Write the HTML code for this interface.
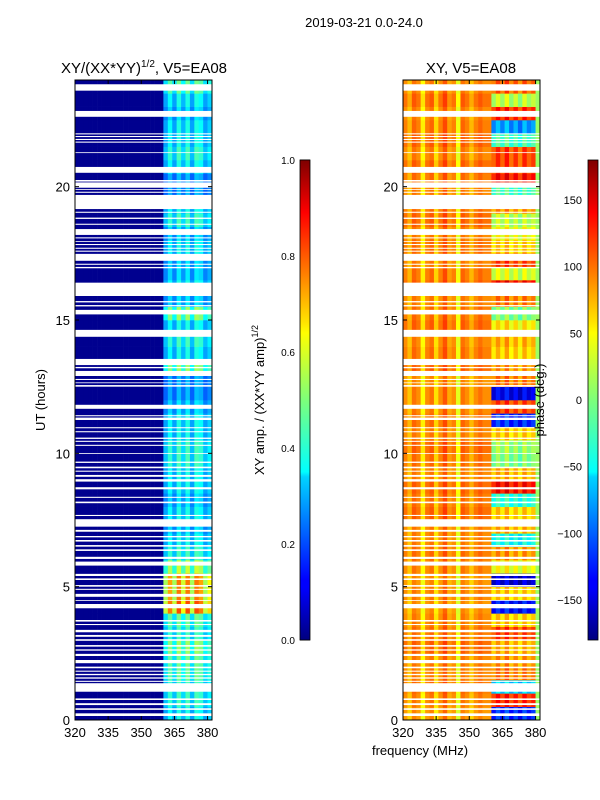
<!DOCTYPE html>
<html><head><meta charset="utf-8"><style>
body{margin:0;background:#fff;width:600px;height:800px;overflow:hidden}
svg{display:block}
text{font-family:"Liberation Sans","DejaVu Sans",sans-serif;fill:#000}
</style></head><body>
<svg id="fig" width="600" height="800" xmlns="http://www.w3.org/2000/svg">
<defs>
<linearGradient id="jet" x1="0" y1="1" x2="0" y2="0">
<stop offset="0" stop-color="#00007f"/><stop offset="0.11" stop-color="#0000ff"/><stop offset="0.125" stop-color="#0000ff"/><stop offset="0.34" stop-color="#00d4ff"/><stop offset="0.35" stop-color="#0ff"/><stop offset="0.5" stop-color="#7dff7a"/><stop offset="0.64" stop-color="#ff0"/><stop offset="0.66" stop-color="#ffe600"/><stop offset="0.89" stop-color="#ff0000"/><stop offset="1" stop-color="#7f0000"/>
</linearGradient>
</defs>
<text x="364" y="27" font-size="13" text-anchor="middle">2019-03-21 0.0-24.0</text>
<text x="144" y="73" font-size="15" text-anchor="middle">XY/(XX*YY)<tspan font-size="10" dy="-6">1/2</tspan><tspan dy="6">, V5=EA08</tspan></text>
<text x="471" y="73" font-size="15" text-anchor="middle">XY, V5=EA08</text>
<g id="left"></g>
<g id="right"></g>
<g id="axes"></g>
<text transform="translate(45,400) rotate(-90)" font-size="13" text-anchor="middle">UT (hours)</text>
<text x="420" y="755" font-size="13" text-anchor="middle">frequency (MHz)</text>
<rect x="300" y="160" width="10" height="480" fill="url(#jet)" stroke="#000" stroke-width="0.8"/>
<rect x="588" y="160" width="10" height="480" fill="url(#jet)" stroke="#000" stroke-width="0.8"/>
<text transform="translate(264,400) rotate(-90)" font-size="13" text-anchor="middle">XY amp. / (XX*YY amp)<tspan font-size="9" dy="-6">1/2</tspan></text>
<text transform="translate(544,400) rotate(-90)" font-size="13" text-anchor="middle">phase (deg.)</text>
</svg>
<script>
// ---- data ----
const freqBins = [320,322,324,326,328,330,332,334,336,338,340,342,344,346,348,350,352,354,356,358,360,362,364,366,368,370,372,374,376,378,380];
const ampByHalfHour = [0.45,0.5,0.5,0.55,0.55,0.6,0.5,0.55,0.9,0.85,0.85,0.65,0.5,0.45,0.4,0.45,0.4,0.45,0.45,0.5,0.5,0.45,0.45,0.4,0.35,0.35,0.6,0.45,0.5,0.45,0.6,0.4,0.45,0.4,0.4,0.45,0.4,0.5,0.45,0.35,0.35,0.45,0.5,0.45,0.45,0.4,0.45,0.55];
const ampColProfile = [0.05,0.05,0.05,0.05,0.05,0.05,0.05,0.05,0.05,0.05,0.05,0.05,0.05,0.05,0.05,0.05,0.05,0.05,0.05,0.05,0.6,0.8,0.6,0.85,0.65,0.85,0.6,0.85,0.8,0.6,0.7];
const phaseMainByHalfHour = [80,85,90,85,85,95,90,85,80,85,80,85,90,85,85,95,90,95,85,90,95,85,90,85,85,80,95,90,85,95,90,85,95,90,85,90,85,95,90,85,90,95,85,95,90,85,95,85];
const phaseHighByHalfHour = [-120,120,-60,90,80,70,110,60,-130,60,-150,40,80,-40,70,60,-30,130,70,0,10,60,-120,110,-140,90,80,60,70,50,0,90,130,30,110,60,40,20,80,-20,130,110,110,-20,-80,120,20,100];
const phaseColOffset = [0,-20,10,0,-40,0,10,-30,0,20,-10,0,-50,10,0,-20,0,10,0,0,-10,15,-10,20,-15,10,-20,15,-10,5,0];
const phaseColMode = ["m","m","m","m","m","m","m","m","m","m","m","m","m","m","m","m","m","m","m","m","h","h","h","h","h","h","h","h","h","h","g"];
const gapsHours = [[23.60,23.84],[22.62,22.84],[21.96,22.0],[21.86,21.9],[21.75,21.79],[21.65,21.69],[21.26,21.29],[20.52,20.74],[20.19,20.25],[19.96,20.16],[19.88,19.91],[19.77,19.81],[19.16,19.69],[19.02,19.06],[18.79,18.84],[18.57,18.61],[18.19,18.41],[18.06,18.10],[17.94,17.96],[17.81,17.85],[17.67,17.71],[17.56,17.60],[17.22,17.48],[17.07,17.11],[16.94,16.99],[15.90,16.40],[15.66,15.71],[15.51,15.56],[15.21,15.38],[14.37,14.63],[13.31,13.54],[13.19,13.24],[12.90,13.09],[12.75,12.79],[12.63,12.66],[12.50,12.56],[11.67,11.82],[11.39,11.43],[11.25,11.34],[10.94,10.98],[10.79,10.83],[10.54,10.59],[10.43,10.47],[10.28,10.32],[9.98,10.01],[9.64,9.69],[9.44,9.50],[9.31,9.35],[9.12,9.19],[8.94,9.03],[8.65,8.73],[8.33,8.37],[8.13,8.19],[7.65,7.69],[7.25,7.53],[7.06,7.13],[6.85,6.90],[6.69,6.75],[6.50,6.56],[6.34,6.40],[6.04,6.12],[5.79,5.94],[5.40,5.48],[5.25,5.31],[5.00,5.06],[4.88,4.92],[4.62,4.73],[4.47,4.50],[4.19,4.35],[3.69,3.75],[3.56,3.60],[3.29,3.38],[3.12,3.19],[2.97,3.03],[2.75,2.81],[2.60,2.65],[2.40,2.48],[2.13,2.25],[1.94,2.00],[1.81,1.85],[1.68,1.73],[1.55,1.60],[1.43,1.47],[1.06,1.38],[0.75,0.81],[0.56,0.63],[0.38,0.44],[0.15,0.25]];
const xTicks = [320,335,350,365,380];
const yTicks = [0,5,10,15,20];
const ampCbTicks = [0.0,0.2,0.4,0.6,0.8,1.0];
const phaseCbTicks = [-150,-100,-50,0,50,100,150];

// ---- scales ----
const NS="http://www.w3.org/2000/svg";
const panels={left:{x0:75,x1:212},right:{x0:403,x1:540}};
const Y0=720,Y1=80;
const fx=(p,f)=>panels[p].x0+(f-320)*(panels[p].x1-panels[p].x0)/62;
const hy=h=>Y0-h*(Y0-Y1)/24;
function jet(v){v=Math.max(0,Math.min(1,v));
 const c=x=>Math.max(0,Math.min(1,x));
 const r=c(1.5-Math.abs(4*v-3)),g=c(1.5-Math.abs(4*v-2)),b=c(1.5-Math.abs(4*v-1));
 return `rgb(${Math.round(r*255)},${Math.round(g*255)},${Math.round(b*255)})`;}
function wrap(p){while(p>180)p-=360;while(p<-180)p+=360;return p;}
function mk(tag,attrs,parent){const e=document.createElementNS(NS,tag);for(const k in attrs)e.setAttribute(k,attrs[k]);parent.appendChild(e);return e;}

// ---- amplitude heatmap ----
const gL=document.getElementById('left');
ampByHalfHour.forEach((a,i)=>{
 freqBins.forEach((f,j)=>{
  const v=ampColProfile[j]<0.1?ampColProfile[j]*0.3:a*ampColProfile[j]*1.05;
  const r=mk('rect',{x:fx('left',f),y:hy((i+1)/2),width:fx('left',f+2)-fx('left',f)+0.3,height:hy(i/2)-hy((i+1)/2)+0.3,fill:jet(v)},gL);
  
  
 });
});
// ---- phase heatmap ----
const gR=document.getElementById('right');
phaseMainByHalfHour.forEach((pm,i)=>{
 freqBins.forEach((f,j)=>{
  let p;
  if(phaseColMode[j]==='m')p=pm+phaseColOffset[j];
  else if(phaseColMode[j]==='h')p=wrap(phaseHighByHalfHour[i]+phaseColOffset[j]);
  else p=10;
  const r=mk('rect',{x:fx('right',f),y:hy((i+1)/2),width:fx('right',f+2)-fx('right',f)+0.3,height:hy(i/2)-hy((i+1)/2)+0.3,fill:jet((p+180)/360)},gR);
  
  
 });
});
// ---- gaps ----
['left','right'].forEach(p=>{
 const g=p==='left'?gL:gR;
 gapsHours.forEach(([lo,hi])=>{
  const r=mk('rect',{x:panels[p].x0,y:hy(hi),width:panels[p].x1-panels[p].x0,height:Math.max(0.8,hy(lo)-hy(hi)),fill:'#fff'},g);
  
  
 });
});
// ---- axes ----
const gA=document.getElementById('axes');
['left','right'].forEach(p=>{
 const P=panels[p];
 const fr=mk('rect',{x:P.x0,y:Y1,width:P.x1-P.x0,height:Y0-Y1,fill:'none',stroke:'#000','stroke-width':1},gA);
 
 
 xTicks.forEach(t=>{
  const x=fx(p,t);
  mk('line',{x1:x,x2:x,y1:Y0,y2:Y0-4,stroke:'#000'},gA);
  mk('line',{x1:x,x2:x,y1:Y1,y2:Y1+4,stroke:'#000'},gA);
  const tx=mk('text',{x:x,y:Y0+17,'font-size':13,'text-anchor':'middle'},gA);
  tx.textContent=t;
  
  
 });
 yTicks.forEach(t=>{
  const y=hy(t);
  mk('line',{x1:P.x0,x2:P.x0+4,y1:y,y2:y,stroke:'#000'},gA);
  mk('line',{x1:P.x1,x2:P.x1-4,y1:y,y2:y,stroke:'#000'},gA);
  const tx=mk('text',{x:P.x0-5,y:y+5,'font-size':13,'text-anchor':'end'},gA);
  tx.textContent=t;
  
  
 });
});
ampCbTicks.forEach(t=>{
 const y=640-t*480;
 mk('line',{x1:300,x2:310,y1:y,y2:y,stroke:'#000','stroke-width':0.8},gA);
 const tx=mk('text',{x:295,y:y+4,'font-size':10,'text-anchor':'end'},gA);
 tx.textContent=t.toFixed(1);
 
 
});
phaseCbTicks.forEach(t=>{
 const y=640-(t+180)/360*480;
 mk('line',{x1:588,x2:598,y1:y,y2:y,stroke:'#000','stroke-width':0.8},gA);
 const tx=mk('text',{x:582,y:y+4,'font-size':11,'text-anchor':'end'},gA);
 tx.textContent=t<0?'\u2212'+(-t):t;
 
 
});
</script>
</body></html>
